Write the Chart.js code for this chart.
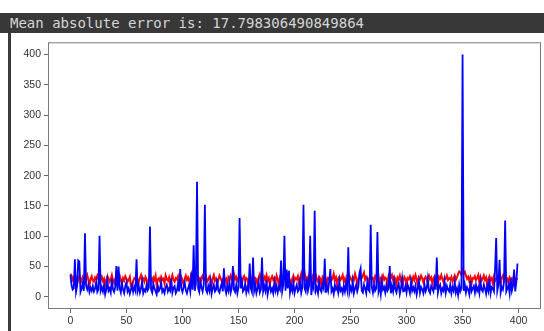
<!DOCTYPE html>
<html>
<head>
<meta charset="utf-8">
<script src="https://cdn.jsdelivr.net/npm/chart.js@4.4.1/dist/chart.umd.min.js"></script>
<style>
  body { margin: 0; background: #fff; width: 544px; height: 331px; overflow: hidden; position: relative; }
  #header {
    position: absolute; left: 0; top: 13px; width: 544px; height: 20px;
    background: #383838; color: #d6d6d6;
    font: 14px "DejaVu Sans Mono", monospace; line-height: 20px;
    padding-left: 10px; box-sizing: border-box; white-space: nowrap;
  }
  #edge { position: absolute; left: 8px; top: 33px; width: 3px; height: 298px; background: #3a3a3a; }
  #wrap { position: absolute; left: 0; top: 33px; width: 544px; height: 298px; }
</style>
</head>
<body>
<div id="header">Mean absolute error is: 17.798306490849864</div>
<div id="edge"></div>
<div id="wrap"><canvas id="errChart"></canvas></div>
<script>
const actual = [
  36, 20, 12, 14, 62, 8, 18, 60, 58, 8, 14, 22, 10, 105, 18, 12, 20, 8, 15, 10,
  18, 9, 14, 24, 8, 12, 101, 10, 16, 9, 20, 4, 12, 28, 10, 14, 7, 30, 12, 8,
  16, 51, 10, 50, 14, 7, 22, 12, 6, 18, 24, 9, 14, 5, 12, 20, 8, 16, 10, 62,
  10, 18, 7, 14, 26, 6, 12, 9, 20, 11, 15, 116, 12, 7, 22, 14, 9, 4, 18, 10,
  14, 24, 8, 12, 6, 16, 20, 9, 14, 10, 30, 7, 15, 18, 6, 10, 22, 9, 46, 14,
  8, 16, 24, 11, 6, 14, 20, 9, 40, 12, 85, 10, 22, 190, 14, 8, 25, 16, 9, 20,
  152, 12, 7, 18, 10, 26, 5, 14, 20, 9, 12, 30, 10, 7, 16, 22, 9, 47, 14, 6,
  18, 10, 24, 7, 14, 51, 12, 8, 20, 6, 16, 130, 14, 26, 9, 12, 22, 7, 16, 10,
  55, 14, 8, 65, 10, 20, 6, 14, 25, 7, 12, 65, 9, 18, 10, 28, 4, 14, 20, 9,
  14, 6, 24, 10, 18, 7, 16, 12, 60, 9, 20, 101, 10, 45, 14, 43, 7, 18, 10, 24,
  6, 14, 20, 9, 12, 26, 7, 16, 152, 14, 9, 30, 10, 18, 101, 3, 20, 14, 142, 10,
  16, 6, 24, 12, 8, 20, 14, 63, 7, 18, 10, 26, 46, 9, 14, 5, 20, 12, 16, 7,
  25, 10, 14, 6, 18, 9, 22, 12, 82, 7, 16, 10, 26, 6, 14, 20, 9, 16, 40, 47,
  10, 7, 20, 14, 6, 25, 12, 9, 119, 16, 7, 20, 10, 14, 107, 9, 18, 4, 26, 12,
  16, 7, 20, 10, 14, 51, 6, 18, 9, 26, 12, 7, 16, 22, 5, 14, 30, 9, 10, 18,
  7, 20, 14, 6, 25, 10, 16, 9, 18, 4, 14, 26, 7, 16, 12, 6, 20, 9, 14, 30,
  10, 6, 18, 14, 9, 25, 12, 65, 7, 16, 20, 6, 14, 10, 26, 7, 18, 12, 9, 20,
  6, 16, 10, 25, 7, 14, 3, 20, 9, 14, 400, 10, 20, 7, 16, 12, 4, 26, 9, 14,
  18, 7, 20, 10, 16, 6, 25, 12, 9, 20, 14, 5, 18, 10, 30, 6, 16, 14, 9, 45,
  97, 10, 20, 61, 7, 16, 12, 25, 126, 9, 14, 20, 6, 30, 10, 18, 45, 9, 25, 55
];

const predicted = [
  38, 35, 28, 32, 25, 30, 22, 28, 35, 30, 26, 33, 29, 24, 31, 36, 28, 18, 30, 34,
  27, 25, 32, 29, 35, 30, 24, 28, 33, 26, 30, 20, 28, 34, 31, 25, 29, 36, 27, 23,
  30, 33, 26, 29, 35, 28, 22, 31, 27, 34, 30, 25, 28, 33, 18, 16, 26, 31, 29, 35,
  28, 24, 31, 36, 27, 30, 25, 33, 29, 20, 28, 34, 30, 26, 32, 28, 35, 19, 29, 31,
  26, 33, 28, 30, 22, 35, 29, 27, 32, 18, 30, 36, 28, 25, 31, 29, 34, 22, 30, 33,
  27, 20, 30, 35, 28, 32, 26, 29, 38, 31, 25, 33, 40, 36, 28, 30, 21, 32, 35, 27,
  30, 34, 25, 28, 33, 29, 18, 31, 36, 27, 30, 22, 28, 35, 31, 26, 29, 33, 27, 30,
  20, 32, 28, 35, 30, 26, 38, 29, 33, 27, 31, 36, 28, 22, 30, 34, 27, 31, 29, 17,
  33, 28, 30, 35, 24, 31, 29, 19, 32, 37, 28, 30, 22, 33, 29, 36, 27, 31, 20, 30,
  34, 28, 31, 24, 35, 29, 20, 32, 38, 30, 27, 33, 29, 36, 23, 31, 28, 18, 30, 35,
  27, 31, 29, 34, 22, 30, 38, 28, 33, 40, 29, 32, 24, 35, 30, 28, 33, 21, 31, 36,
  29, 25, 33, 30, 19, 32, 28, 35, 30, 24, 31, 29, 34, 27, 30, 38, 28, 32, 20, 30,
  33, 28, 31, 36, 25, 30, 21, 33, 29, 35, 30, 27, 32, 28, 38, 31, 22, 30, 34, 29,
  31, 35, 40, 28, 33, 30, 24, 32, 36, 29, 31, 25, 34, 30, 28, 33, 20, 31, 29, 35,
  28, 32, 30, 22, 34, 29, 31, 36, 28, 33, 30, 19, 32, 29, 35, 27, 31, 24, 33, 30,
  23, 31, 29, 34, 30, 25, 33, 28, 36, 30, 18, 32, 29, 35, 31, 24, 30, 33, 28, 31,
  35, 29, 32, 22, 30, 34, 28, 31, 20, 33, 30, 36, 29, 24, 32, 30, 35, 28, 31, 29,
  33, 25, 30, 35, 28, 32, 38, 42, 40, 36, 44, 38, 41, 35, 30, 33, 26, 32, 22, 31,
  30, 34, 28, 31, 36, 24, 33, 27, 30, 35, 28, 32, 19, 30, 34, 28, 31, 22, 33, 27,
  30, 33, 28, 32, 20, 31, 35, 29, 33, 28, 30, 22, 32, 29, 31, 25, 33, 30, 28, 31
];

const xTicks = [0, 50, 100, 150, 200, 250, 300, 350, 400];
const yTicks = [0, 50, 100, 150, 200, 250, 300, 350, 400];

const idx = actual.map((_, i) => i);

// box around the plot area, like matplotlib spines
const framePlugin = {
  id: "frame",
  afterDatasetsDraw(chart) {
    const { ctx, chartArea: a } = chart;
    ctx.save();
    ctx.strokeStyle = "#7a7a7a";
    ctx.lineWidth = 1;
    ctx.strokeRect(a.left + 0.5, a.top + 0.5, a.right - a.left - 1, a.bottom - a.top - 1);
    ctx.restore();
  },
};

const tickFont = { family: "'Liberation Sans', Arial, sans-serif", size: 10.5 };

new Chart(document.getElementById("errChart"), {
  type: "line",
  data: {
    labels: idx,
    datasets: [
      {
        label: "predicted",
        data: idx.map((i) => ({ x: i, y: predicted[i] })),
        borderColor: "#ff0000",
        borderWidth: 2,
        pointRadius: 0,
        fill: false,
        order: 2,
      },
      {
        label: "actual",
        data: idx.map((i) => ({ x: i, y: actual[i] })),
        borderColor: "#0000ff",
        borderWidth: 1.8,
        pointRadius: 0,
        fill: false,
        order: 1,
      },
    ],
  },
  options: {
    responsive: true,
    maintainAspectRatio: false,
    animation: false,
    layout: { padding: { left: 0, top: 7, right: 3, bottom: 0 } },
    plugins: { legend: { display: false }, tooltip: { enabled: false } },
    scales: {
      x: {
        type: "linear",
        min: -20,
        max: 420,
        afterBuildTicks: (s) => { s.ticks = xTicks.map((v) => ({ value: v })); },
        afterFit: (s) => { s.height = 22; },
        grid: { drawOnChartArea: false, drawTicks: true, tickLength: 4, color: "#666" },
        border: { display: false },
        ticks: { color: "#333", font: tickFont, padding: 2, maxRotation: 0 },
      },
      y: {
        min: -20,
        max: 420,
        afterBuildTicks: (s) => { s.ticks = yTicks.map((v) => ({ value: v })); },
        afterFit: (s) => { s.width = 48; },
        grid: { drawOnChartArea: false, drawTicks: true, tickLength: 4, color: "#666" },
        border: { display: false },
        ticks: { color: "#333", font: tickFont, padding: 3 },
      },
    },
  },
  plugins: [framePlugin],
});
</script>
</body>
</html>
